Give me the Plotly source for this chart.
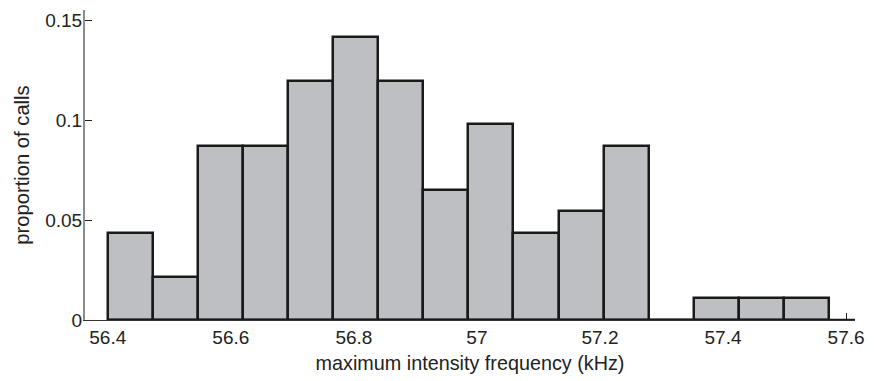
import plotly.graph_objects as go

# Histogram data (proportion of calls per bin)
bin_edges = [56.4000, 56.4733, 56.5465, 56.6198, 56.6930, 56.7663, 56.8396, 56.9128,
             56.9861, 57.0594, 57.1326, 57.2059, 57.2791, 57.3524, 57.4257, 57.4989, 57.5722]
proportions = [0.0435, 0.0217, 0.0870, 0.0870, 0.1196, 0.1413, 0.1196, 0.0652,
               0.0978, 0.0435, 0.0543, 0.0870, 0.0, 0.0109, 0.0109, 0.0109]

x_tickvals = [56.4, 56.6, 56.8, 57.0, 57.2, 57.4, 57.6]
x_ticktext = ["56.4", "56.6", "56.8", "57", "57.2", "57.4", "57.6"]
y_tickvals = [0, 0.05, 0.1, 0.15]
y_ticktext = ["0", "0.05", "0.1", "0.15"]

x_range = [56.363, 57.6145]
y_range = [0, 0.155]

centers = [(a + b) / 2 for a, b in zip(bin_edges[:-1], bin_edges[1:])]
widths = [b - a for a, b in zip(bin_edges[:-1], bin_edges[1:])]

FONT = "Liberation Sans, Arial, Helvetica, sans-serif"

fig = go.Figure()
# thick baseline from first bin edge to the right end of the axis
fig.add_trace(go.Scatter(
    x=[bin_edges[0], x_range[1]], y=[0, 0], mode="lines",
    line=dict(color="#1a1a1a", width=2.5), hoverinfo="skip", showlegend=False,
))
fig.add_trace(go.Bar(
    x=centers, y=proportions, width=widths,
    marker=dict(color="#bebfc3", line=dict(color="#1a1a1a", width=2.5)),
    showlegend=False,
))

fig.update_layout(
    width=874, height=381,
    margin=dict(l=85, r=12, t=10, b=58),
    plot_bgcolor="white", paper_bgcolor="white",
    font=dict(family=FONT, size=19, color="#222222"),
    bargap=0,
    xaxis=dict(
        range=x_range, tickvals=x_tickvals, ticktext=x_ticktext,
        showgrid=False, zeroline=False,
        showline=True, linecolor="#333333", linewidth=1,
        ticks="inside", ticklen=7, tickwidth=1, tickcolor="#222222",
        layer="below traces",
        title=dict(text="maximum intensity frequency (kHz)", font=dict(size=19.8), standoff=9),
    ),
    yaxis=dict(
        range=y_range, tickvals=y_tickvals, ticktext=y_ticktext,
        showgrid=False, zeroline=False,
        showline=True, linecolor="#8c8c8c", linewidth=2,
        ticks="inside", ticklen=7, tickwidth=1, tickcolor="#222222",
        ticklabelstandoff=-3,
        title=dict(text="proportion of calls", font=dict(size=20.2), standoff=10),
    ),
)

fig.write_html("out.html")
